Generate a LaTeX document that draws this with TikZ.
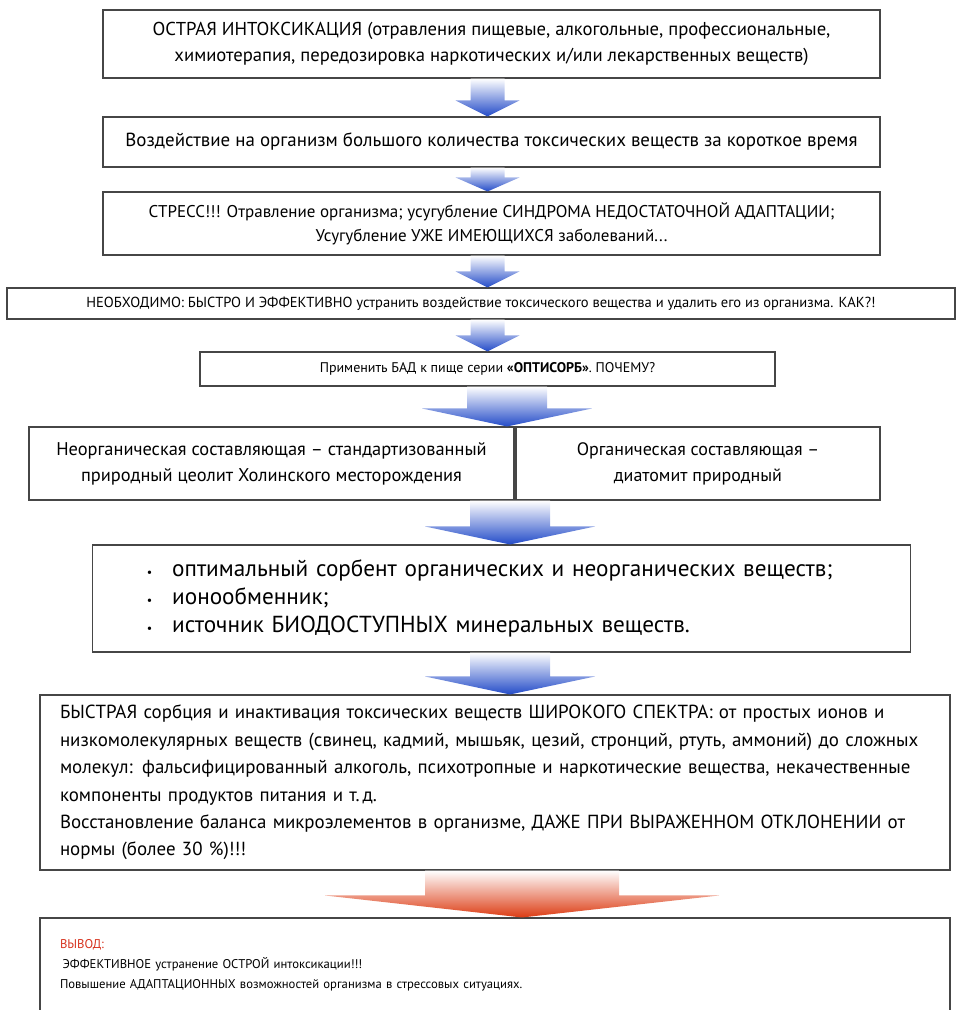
\documentclass[tikz,border=0pt]{standalone}
\usepackage{fontspec}
\setmainfont{PT Sans}
\usepackage{tikz}
\usetikzlibrary{calc}
\definecolor{boxline}{RGB}{70,70,70}
\definecolor{arrowblue}{RGB}{35,75,200}
\definecolor{arroworange}{RGB}{220,60,20}
\definecolor{verdictred}{RGB}{215,50,30}

\begin{document}
\begin{tikzpicture}[
      x=0.75pt, y=-0.75pt,
      box/.style={rectangle, draw=boxline, line width=0.8pt, fill=white,
                  align=center, inner sep=0pt},
      textbox/.style={box, align=left, inner xsep=15pt},
      every node/.style={font=\fontsize{14}{19}\selectfont}
    ]
      \useasboundingbox (0,0) rectangle (961,1010);
      %% Chain of boxes, top to bottom
      \node[box, minimum width=582.75pt, minimum height=51pt] (acute) at (491.5, 44)
            {ОСТРАЯ ИНТОКСИКАЦИЯ (отравления пищевые, алкогольные, профессиональные,\\
             химиотерапия, передозировка наркотических и/или лекарственных веществ)};
      \node[box, minimum width=582.75pt, minimum height=37.5pt,
            font=\fontsize{14.2}{18}\selectfont] (impact) at (491.5, 142)
            {Воздействие на организм большого количества токсических веществ за короткое время};
      \node[box, minimum width=582.75pt, minimum height=47.25pt,
            font=\fontsize{12.75}{18}\selectfont] (stress) at (491.5, 223.5)
            {СТРЕСС!!! Отравление организма; усугубление СИНДРОМА НЕДОСТАТОЧНОЙ АДАПТАЦИИ;\\
             Усугубление УЖЕ ИМЕЮЩИХСЯ заболеваний...};
      \node[box, minimum width=711pt, minimum height=23.25pt,
            font=\fontsize{10.9}{13}\selectfont] (need) at (481, 303.5)
            {НЕОБХОДИМО: БЫСТРО И ЭФФЕКТИВНО устранить воздействие токсического вещества и удалить его из организма. КАК?!};
      \node[box, minimum width=431.25pt, minimum height=25.5pt,
            font=\fontsize{10.5}{13}\selectfont] (apply) at (487.5, 369)
            {Применить БАД к пище серии \textbf{«ОПТИСОРБ»}. ПОЧЕМУ?};
      %% Two components side by side
      \node[box, minimum width=363.75pt, minimum height=54.75pt,
            font=\fontsize{13.8}{19.5}\selectfont] (inorg) at (271.5, 463.5)
            {Неорганическая составляющая – стандартизованный\\
             природный цеолит Холинского месторождения};
      \node[box, minimum width=273pt, minimum height=54.75pt,
            font=\fontsize{13.5}{19.5}\selectfont] (org) at (698, 463.5)
            {Органическая составляющая –\\диатомит природный};
      %% Properties
      \node[textbox, text width=532pt, inner xsep=41pt, minimum height=80.25pt,
            font=\fontsize{17.4}{21}\selectfont] (props) at (501.5, 598.5)
            {\makebox[19pt][l]{\small\textbullet}оптимальный сорбент органических и неорганических веществ;\\
             \makebox[19pt][l]{\small\textbullet}ионообменник;\\
             \makebox[19pt][l]{\small\textbullet}источник БИОДОСТУПНЫХ минеральных веществ.};
      \node[textbox, text width=652.5pt, minimum height=131.25pt,
            font=\fontsize{14.2}{20.6}\selectfont] (sorb) at (495, 782.5)
            {БЫСТРАЯ сорбция и инактивация токсических веществ ШИРОКОГО СПЕКТРА: от простых ионов и\\
             низкомолекулярных веществ (свинец, кадмий, мышьяк, цезий, стронций, ртуть, аммоний) до сложных\\
             молекул: фальсифицированный алкоголь, психотропные и наркотические вещества, некачественные\\
             компоненты продуктов питания и т.\,д.\\
             Восстановление баланса микроэлементов в организме, ДАЖЕ ПРИ ВЫРАЖЕННОМ ОТКЛОНЕНИИ от\\
             нормы (более 30~\%)!!!};
      \node[textbox, text width=652.5pt, minimum height=70.5pt,
            font=\fontsize{9.5}{15}\selectfont] (verdict) at (495, 965)
            {\textcolor{verdictred}{ВЫВОД:}\\
             \hspace{2pt}ЭФФЕКТИВНОЕ устранение ОСТРОЙ интоксикации!!!\\
             Повышение АДАПТАЦИОННЫХ возможностей организма в стрессовых ситуациях.\\[14pt]};
      %% Block arrows between boxes
      \foreach \from/\to/\xc/\sw/\hw/\hl/\col in {
          acute/impact/487.5/17/32/16/arrowblue, impact/stress/487.5/17/32/14/arrowblue,
          stress/need/487.5/17/32/16/arrowblue, need/apply/487.5/17/32/16/arrowblue,
          apply/inorg/507/40/85/18/arrowblue, inorg/props/510/40/85/18/arrowblue,
          props/sorb/510/40/85/18/arrowblue, sorb/verdict/522/97/197/22/arroworange}{
        \shade[top color=white, bottom color=\col]
          let \p1=(\from.south), \p2=(\to.north) in
          ({(\xc-\sw)*0.75pt}, \y1) -- ({(\xc+\sw)*0.75pt}, \y1)
          -- ({(\xc+\sw)*0.75pt}, {\y2+\hl*0.75pt}) -- ({(\xc+\hw)*0.75pt}, {\y2+\hl*0.75pt})
          -- ({\xc*0.75pt}, \y2) -- ({(\xc-\hw)*0.75pt}, {\y2+\hl*0.75pt})
          -- ({(\xc-\sw)*0.75pt}, {\y2+\hl*0.75pt}) -- cycle;
      }
    \end{tikzpicture}
\end{document}
